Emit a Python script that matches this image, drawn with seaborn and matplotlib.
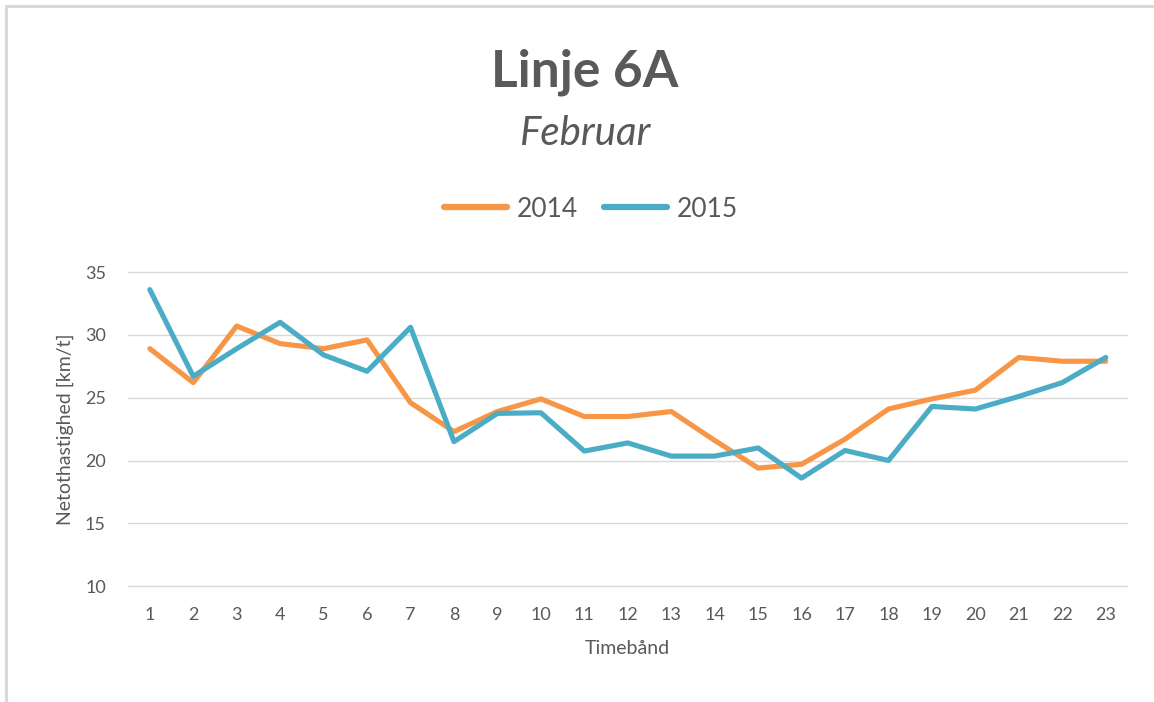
import numpy as np
import pandas as pd
import matplotlib
matplotlib.use("Agg")
import matplotlib.pyplot as plt
import seaborn as sns
from matplotlib.lines import Line2D

# values
timebaand = list(range(1, 24))
v2014 = [28.9, 26.2, 30.7, 29.3, 28.9, 29.6, 24.6, 22.3, 23.9, 24.9, 23.5, 23.5,
         23.9, 21.6, 19.4, 19.7, 21.7, 24.1, 24.9, 25.6, 28.2, 27.9, 27.9]
v2015 = [33.6, 26.7, 28.9, 31.0, 28.4, 27.1, 30.6, 21.5, 23.75, 23.8, 20.75, 21.4,
         20.35, 20.35, 21.0, 18.6, 20.8, 20.0, 24.3, 24.1, 25.1, 26.2, 28.2]
years = ["2014", "2015"]
yticks = [10, 15, 20, 25, 30, 35]

df = pd.DataFrame({
    "Timebånd": timebaand * 2,
    "Netothastighed": v2014 + v2015,
    "År": [years[0]] * len(v2014) + [years[1]] * len(v2015),
})

sns.set_theme(style="white")
plt.rcParams["font.family"] = ["Lato", "DejaVu Sans"]
grey = "#595959"

fig = plt.figure(figsize=(11.54, 7.02), dpi=100)
ax = fig.add_axes([0.111, 0.165, 0.866, 0.4475])

sns.lineplot(data=df, x="Timebånd", y="Netothastighed", hue="År",
             palette=["#F79646", "#4BACC6"], linewidth=3.7, ax=ax,
             legend=False)

ax.set_xlim(0.5, 23.5)
ax.set_ylim(10, 35)
ax.set_xticks(timebaand)
ax.set_yticks(yticks)
ax.grid(axis="y", color="#D9D9D9", linewidth=1)
for gl in ax.get_ygridlines():
    gl.set_clip_on(False)
ax.set_axisbelow(True)
for s in ax.spines.values():
    s.set_visible(False)
ax.tick_params(axis="both", length=0, labelsize=13, colors=grey)
ax.tick_params(axis="x", pad=15)
ax.tick_params(axis="y", pad=16)
ax.set_xlabel("Timebånd", fontsize=14, color=grey, labelpad=12)
ax.set_ylabel("Netothastighed [km/t]", fontsize=14, color=grey, labelpad=8)

fig.text(0.507, 0.897, "Linje 6A", ha="center", va="center", fontsize=37,
         fontweight="bold", color=grey)
fig.text(0.507, 0.81, "Februar", ha="center", va="center", fontsize=29,
         style="italic", color=grey)

handles = [Line2D([0], [0], color=c, linewidth=4.5, solid_capstyle="round")
           for c in ["#F79646", "#4BACC6"]]
fig.legend(handles, years, loc="center", bbox_to_anchor=(0.512, 0.702),
           ncol=2, frameon=False, fontsize=19, handlelength=2.4,
           handletextpad=0.35, columnspacing=1.0, labelcolor=grey)

# light frame on top and left edge
fig.add_artist(Line2D([0.0055, 1.0], [0.9915, 0.9915], transform=fig.transFigure,
                      color="#D9D9D9", linewidth=2.2))
fig.add_artist(Line2D([0.0055, 0.0055], [0.0, 0.9915], transform=fig.transFigure,
                      color="#D9D9D9", linewidth=2.2))

fig.savefig("out.png", dpi=100)
